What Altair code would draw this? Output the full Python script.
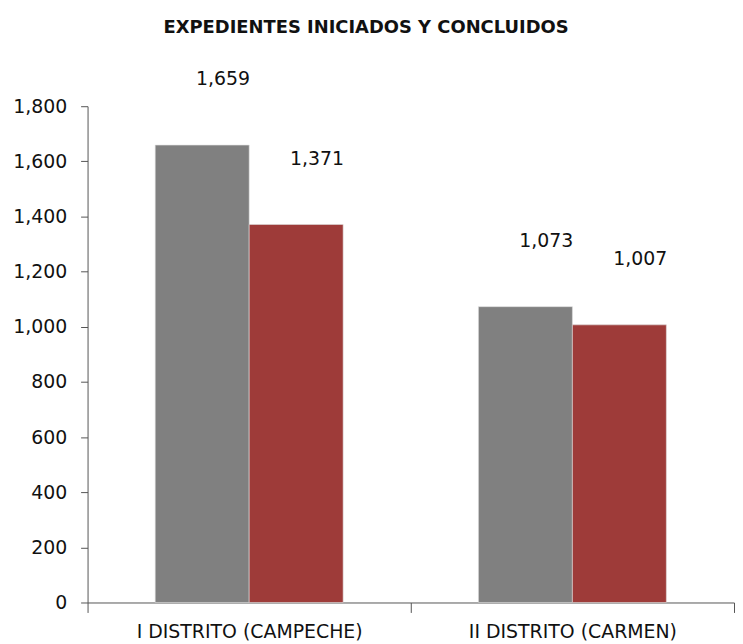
import altair as alt
import pandas as pd

categories = ["I DISTRITO (CAMPECHE)", "II DISTRITO (CARMEN)"]
series = ["Iniciados", "Concluidos"]
iniciados = [1659, 1073]
concluidos = [1371, 1007]
colors = ["#808080", "#9E3B39"]

rows = []
for i, c in enumerate(categories):
    rows.append({"cat": c, "serie": series[0], "value": iniciados[i]})
    rows.append({"cat": c, "serie": series[1], "value": concluidos[i]})
df = pd.DataFrame(rows)

FONT = "DejaVu Sans"

x = alt.X("cat:N", sort=categories, title=None,
          scale=alt.Scale(paddingInner=0, paddingOuter=0),
          axis=alt.Axis(labelAngle=0, labelFontSize=19, labelColor="#111111",
                        labelFont=FONT, labelPadding=10, tickBand="extent",
                        labelLimit=0,
                        tickSize=10, tickColor="#555555", domainColor="#555555",
                        labelFontWeight="normal"))
y = alt.Y("value:Q", title=None,
          scale=alt.Scale(domain=[0, 1800], nice=False),
          axis=alt.Axis(values=list(range(0, 1801, 200)), format=",.0f",
                        labelFontSize=19, labelColor="#111111", labelFont=FONT,
                        tickSize=7, labelPadding=14, grid=False,
                        tickColor="#555555", domainColor="#555555"))

xoff = alt.XOffset("serie:N", sort=series,
                   scale=alt.Scale(paddingInner=0, paddingOuter=0.72))

base = alt.Chart(df).encode(x=x, y=y, xOffset=xoff)

bars = base.mark_bar(stroke="#dddddd", strokeWidth=0.6).encode(
    color=alt.Color("serie:N", sort=series,
                    scale=alt.Scale(domain=series, range=colors), legend=None)
)

labels = base.mark_text(dy=-66, dx=21, fontSize=19, font=FONT, color="#111111",
                        baseline="middle").encode(
    text=alt.Text("value:Q", format=",.0f")
)

chart = (bars + labels).properties(
    width=650, height=499,
    title=alt.TitleParams("EXPEDIENTES INICIADOS Y CONCLUIDOS", fontSize=18,
                          font=FONT, fontWeight="bold", color="#111111",
                          anchor="middle", dx=-45, offset=34),
    padding={"left": 4, "top": 9, "right": 0, "bottom": 5},
).configure_view(stroke=None)

chart.save("out.html", embed_options={"renderer": "svg", "actions": False})
